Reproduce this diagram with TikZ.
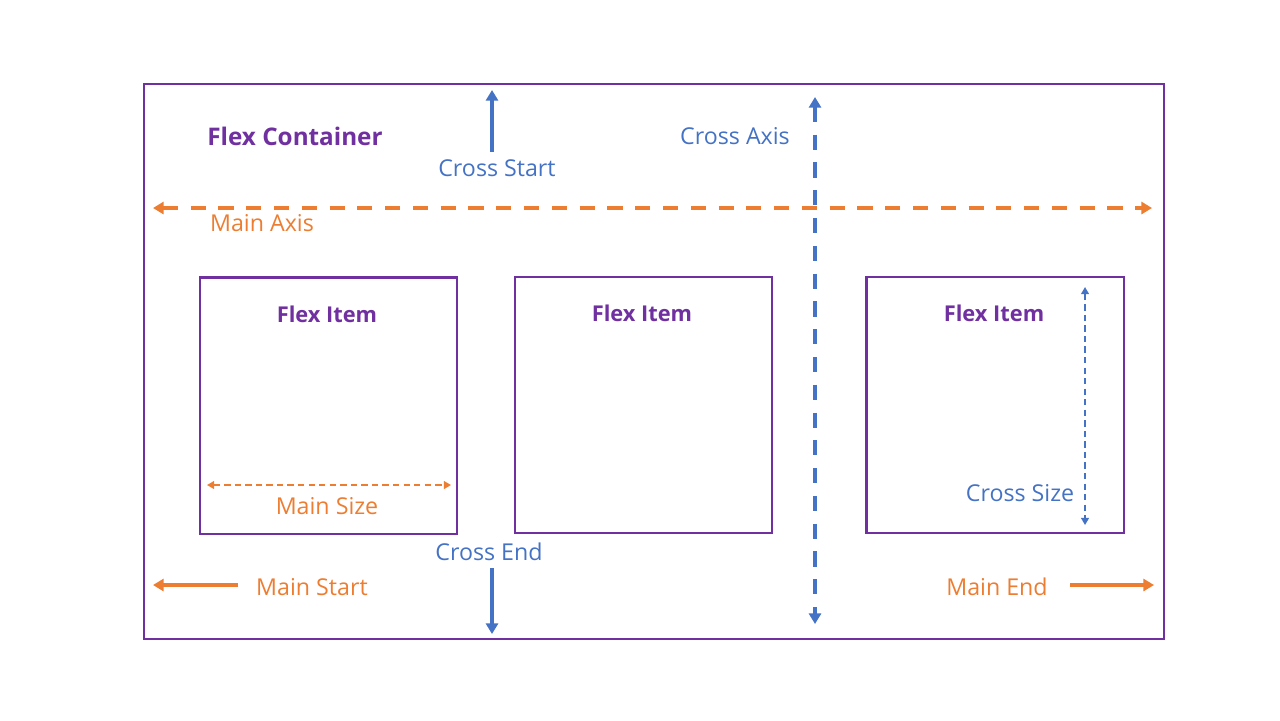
\documentclass[tikz,border=0pt]{standalone}
\usepackage{fontspec}
\setmainfont{Open Sans}
\usepackage{xcolor}
\usetikzlibrary{arrows.meta, positioning}

\definecolor{flexpurple}{HTML}{7030A0}
\definecolor{flexblue}{HTML}{4472C4}
\definecolor{flexorange}{HTML}{ED7D31}

\tikzset{
	box/.style={draw=flexpurple, line width=0.6pt},
	item/.style={box, minimum width=2.57cm, minimum height=2.56cm, inner sep=0pt},
	title/.style={text=flexpurple, font=\fontsize{6.9}{8}\selectfont\bfseries},
	itemtitle/.style={text=flexpurple, font=\fontsize{6.2}{8}\selectfont\bfseries},
	bluetext/.style={text=flexblue, font=\fontsize{6.6}{8}\selectfont},
	orangetext/.style={text=flexorange, font=\fontsize{6.6}{8}\selectfont},
	bigarrow/.style={line width=0.95pt, -{Triangle[length=3pt, width=3.4pt]}},
	axisline/.style={line width=0.95pt, dash pattern=on 4.3pt off 3.6pt, {Triangle[length=3pt, width=3.4pt]}-{Triangle[length=3pt, width=3.4pt]}},
	sizeline/.style={line width=0.45pt, dash pattern=on 1.8pt off 1.2pt, {Triangle[length=2pt, width=2.2pt]}-{Triangle[length=2pt, width=2.2pt]}}
}

\begin{document}
\begin{tikzpicture}[x=0.01cm, y=-0.01cm]
	\useasboundingbox (0, 0) rectangle (1280, 720);
	% container
	\draw [box] (144, 84) rectangle (1164, 639);
	\node [title] (container) at (295, 136) {Flex Container};

	% flex items
	\node [item] (item1) at (328.5, 405.5) {};
	\node [item] (item2) at (643.5, 405) {};
	\node [item] (item3) at (995, 405) {};
	\node [itemtitle] (label1) at (327, 314) {Flex Item};
	\node [itemtitle] (label2) at (642, 313) {Flex Item};
	\node [itemtitle] (label3) at (994, 313) {Flex Item};

	% main axis
	\coordinate (mainL) at (153, 208);
	\coordinate (mainR) at (1152, 208);
	\draw [axisline, flexorange] (mainL) -- (mainR);
	\node [orangetext] (mainaxis) at (262, 223) {Main Axis};

	% cross axis
	\coordinate (crossT) at (815, 97);
	\coordinate (crossB) at (815, 624);
	\draw [axisline, flexblue] (crossT) -- (crossB);
	\node [bluetext] (crossaxis) at (735, 136) {Cross Axis};

	% start / end
	\node [bluetext] (crossstart) at (497, 168) {Cross Start};
	\coordinate (csFrom) at (492, 152);
	\coordinate (csTo) at (492, 90);
	\draw [bigarrow, flexblue] (csFrom) -- (csTo);

	\node [bluetext] (crossend) at (489, 552) {Cross End};
	\coordinate (ceFrom) at (492, 568);
	\coordinate (ceTo) at (492, 634);
	\draw [bigarrow, flexblue] (ceFrom) -- (ceTo);

	\node [orangetext] (mainstart) at (312, 587) {Main Start};
	\coordinate (msFrom) at (238, 585);
	\coordinate (msTo) at (153, 585);
	\draw [bigarrow, flexorange] (msFrom) -- (msTo);

	\node [orangetext] (mainend) at (997, 587) {Main End};
	\coordinate (meFrom) at (1070, 585);
	\coordinate (meTo) at (1154, 585);
	\draw [bigarrow, flexorange] (meFrom) -- (meTo);

	% sizes
	\coordinate (msizeL) at (207, 485);
	\coordinate (msizeR) at (451, 485);
	\draw [sizeline, flexorange] (msizeL) -- (msizeR);
	\node [orangetext] (mainsize) at (327, 506) {Main Size};

	\coordinate (csizeT) at (1085, 287);
	\coordinate (csizeB) at (1085, 525);
	\draw [sizeline, flexblue] (csizeT) -- (csizeB);
	\node [bluetext] (crosssize) at (1020, 493) {Cross Size};
\end{tikzpicture}
\end{document}
